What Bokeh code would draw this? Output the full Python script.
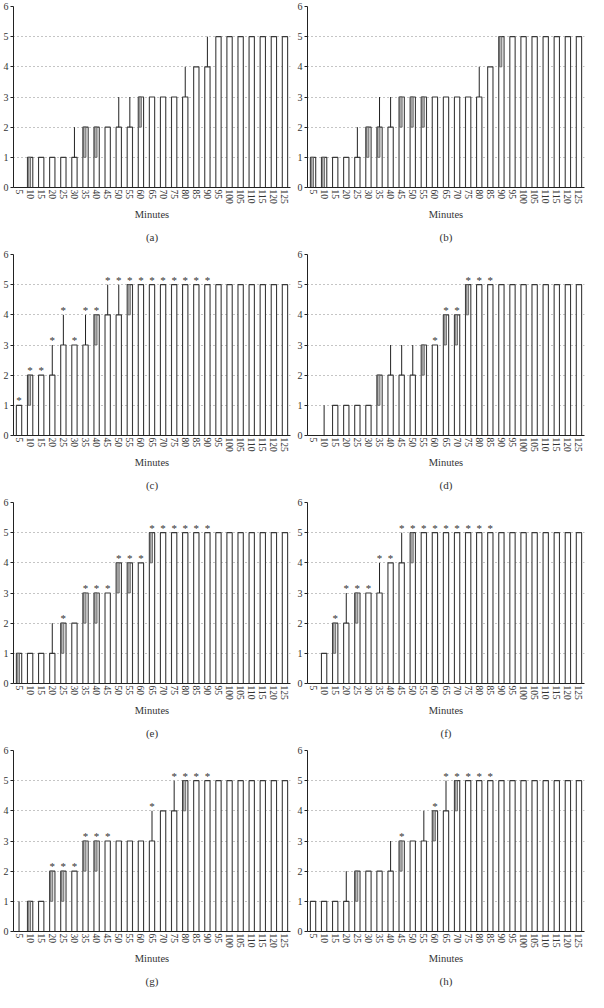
from bokeh.plotting import figure
from bokeh.layouts import column, row
from bokeh.models import Title, FactorRange, ColumnDataSource
from bokeh.transform import dodge
from bokeh.core.properties import value
from bokeh.embed import file_html
from bokeh.resources import INLINE

minutes = [str(m) for m in range(5, 130, 5)]
y_ticks = [0, 1, 2, 3, 4, 5, 6]

med_a = [0,1,1,1,1,1,2,2,2,2,2,3,3,3,3,3,4,4,5,5,5,5,5,5,5]
low_a = [0,0,1,1,1,1,1,1,2,2,2,2,3,3,3,3,4,4,5,5,5,5,5,5,5]
high_a = [0,1,1,1,1,2,2,2,2,3,3,3,3,3,3,4,4,5,5,5,5,5,5,5,5]
star_a = [0]*25

med_b = [1,1,1,1,1,2,2,2,3,3,3,3,3,3,3,3,4,5,5,5,5,5,5,5,5]
low_b = [0,0,1,1,1,1,1,2,2,2,2,3,3,3,3,3,4,4,5,5,5,5,5,5,5]
high_b = [1,1,1,1,2,2,3,3,3,3,3,3,3,3,3,4,4,5,5,5,5,5,5,5,5]
star_b = [0]*25

med_c = [1,2,2,2,3,3,3,4,4,4,5,5,5,5,5,5,5,5,5,5,5,5,5,5,5]
low_c = [1,1,2,2,3,3,3,3,4,4,4,5,5,5,5,5,5,5,5,5,5,5,5,5,5]
high_c = [1,2,2,3,4,3,4,4,5,5,5,5,5,5,5,5,5,5,5,5,5,5,5,5,5]
star_c = [1]*18 + [0]*7

med_d = [0,0,1,1,1,1,2,2,2,2,3,3,4,4,5,5,5,5,5,5,5,5,5,5,5]
low_d = [0,0,1,1,1,1,1,2,2,2,2,3,3,3,4,5,5,5,5,5,5,5,5,5,5]
high_d = [0,1,1,1,1,1,2,3,3,3,3,3,4,4,5,5,5,5,5,5,5,5,5,5,5]
star_d = [0]*11 + [1]*6 + [0]*8

med_e = [1,1,1,1,2,2,3,3,3,4,4,4,5,5,5,5,5,5,5,5,5,5,5,5,5]
low_e = [0,1,1,1,1,2,2,2,3,3,3,4,4,5,5,5,5,5,5,5,5,5,5,5,5]
high_e = [1,1,1,2,2,2,3,3,3,4,4,4,5,5,5,5,5,5,5,5,5,5,5,5,5]
star_e = [0,0,0,0,1,0] + [1]*12 + [0]*7

med_f = [0,1,2,2,3,3,3,4,4,5,5,5,5,5,5,5,5,5,5,5,5,5,5,5,5]
low_f = [0,1,1,2,2,3,3,4,4,4,5,5,5,5,5,5,5,5,5,5,5,5,5,5,5]
high_f = [0,1,2,3,3,3,4,4,5,5,5,5,5,5,5,5,5,5,5,5,5,5,5,5,5]
star_f = [0,0] + [1]*15 + [0]*8

med_g = [0,1,1,2,2,2,3,3,3,3,3,3,3,4,4,5,5,5,5,5,5,5,5,5,5]
low_g = [0,0,1,1,1,2,2,2,3,3,3,3,3,4,4,4,5,5,5,5,5,5,5,5,5]
high_g = [1,1,1,2,2,2,3,3,3,3,3,3,4,4,5,5,5,5,5,5,5,5,5,5,5]
star_g = [0,0,0,1,1,1,1,1,1,0,0,0,1,0,1,1,1,1,0,0,0,0,0,0,0]

med_h = [1,1,1,1,2,2,2,2,3,3,3,4,4,5,5,5,5,5,5,5,5,5,5,5,5]
low_h = [1,1,1,1,1,2,2,2,2,3,3,3,4,4,5,5,5,5,5,5,5,5,5,5,5]
high_h = [1,1,1,2,2,2,2,3,3,3,4,4,5,5,5,5,5,5,5,5,5,5,5,5,5]
star_h = [0,0,0,0,0,0,0,0,1,0,0,1,1,1,1,1,1,0,0,0,0,0,0,0,0]

panels = [
    ("(a)", med_a, low_a, high_a, star_a),
    ("(b)", med_b, low_b, high_b, star_b),
    ("(c)", med_c, low_c, high_c, star_c),
    ("(d)", med_d, low_d, high_d, star_d),
    ("(e)", med_e, low_e, high_e, star_e),
    ("(f)", med_f, low_f, high_f, star_f),
    ("(g)", med_g, low_g, high_g, star_g),
    ("(h)", med_h, low_h, high_h, star_h),
]

FONT = "Liberation Serif"


def make_panel(label, med, low, high, star):
    p = figure(x_range=FactorRange(*minutes, range_padding=0), y_range=(0, 6.0),
               width=294, height=248, output_backend="svg", toolbar_location=None,
               min_border_top=6, min_border_left=2, min_border_right=4, min_border_bottom=4)
    p.outline_line_color = None
    p.background_fill_color = "white"
    p.xgrid.grid_line_color = None
    p.ygrid.grid_line_color = "#8a8a8a"
    p.ygrid.grid_line_dash = "1 3"
    p.ygrid.grid_line_width = 1
    p.yaxis.ticker = y_ticks
    p.yaxis.axis_line_color = "#222222"
    p.yaxis.major_tick_line_color = "#222222"
    p.yaxis.major_tick_out = 3
    p.yaxis.major_tick_in = 0
    p.yaxis.minor_tick_line_color = None
    p.yaxis.major_label_standoff = 2
    p.xaxis.axis_line_color = "#222222"
    p.xaxis.major_tick_line_color = None
    p.xaxis.major_tick_out = 0
    p.xaxis.major_label_orientation = "vertical"
    p.xaxis.major_label_standoff = 2
    p.xaxis.axis_label = "Minutes"
    p.xaxis.axis_label_standoff = 2
    for ax in (p.xaxis, p.yaxis):
        ax.major_label_text_font = FONT
        ax.major_label_text_font_size = "9.5px"
        ax.major_label_text_color = "#333333"
        ax.axis_label_text_font = FONT
        ax.axis_label_text_font_size = "10.5px"
        ax.axis_label_text_font_style = "normal"
        ax.axis_label_text_color = "#333333"
    p.yaxis.major_label_text_font_size = "10px"

    src = ColumnDataSource(dict(x=minutes, top=med))
    p.vbar(x="x", top="top", bottom=0, width=0.48, source=src,
           fill_color="white", line_color="#3a3a3a", line_width=1.1)

    gx = [minutes[i] for i in range(len(minutes)) if low[i] < med[i]]
    gb = [low[i] for i in range(len(minutes)) if low[i] < med[i]]
    gt = [med[i] for i in range(len(minutes)) if low[i] < med[i]]
    if gx:
        gsrc = ColumnDataSource(dict(x=gx, bottom=gb, top=gt))
        p.vbar(x=dodge("x", -0.07, range=p.x_range), top="top", bottom="bottom",
               width=0.22, source=gsrc, fill_color="#b5b5b5", line_color="#555555",
               line_width=0.8)

    wx = [minutes[i] for i in range(len(minutes)) if high[i] > med[i]]
    w0 = [med[i] for i in range(len(minutes)) if high[i] > med[i]]
    w1 = [high[i] for i in range(len(minutes)) if high[i] > med[i]]
    if wx:
        p.segment(x0=wx, y0=w0, x1=wx, y1=w1, line_color="#222222", line_width=1)

    sx = [minutes[i] for i in range(len(minutes)) if star[i]]
    sy = [max(med[i], high[i]) for i in range(len(minutes)) if star[i]]
    if sx:
        p.text(x=sx, y=sy, text=["*"] * len(sx), text_align="center",
               text_baseline="middle", y_offset=-5, text_font_size="11px",
               text_color="#333333", text_font=value(FONT))

    cap = Title(text=label, align="center", text_font=FONT, text_font_size="11px",
                text_font_style="normal", text_color="#333333", standoff=12)
    p.add_layout(cap, "below")
    return p


figs = [make_panel(*pn) for pn in panels]
layout = column(*[row(figs[i], figs[i + 1]) for i in range(0, 8, 2)])
open("out.html", "w").write(file_html(layout, INLINE))
